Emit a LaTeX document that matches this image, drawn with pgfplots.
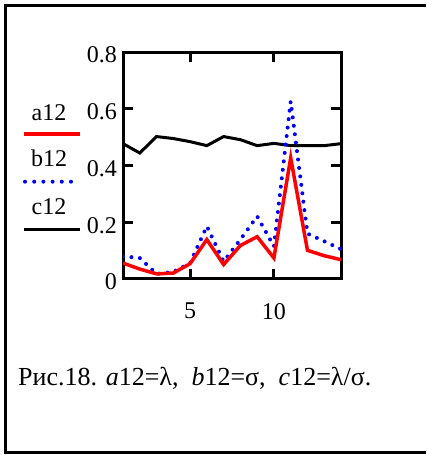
\documentclass[border=0pt]{standalone}
\usepackage{fontspec}
\setmainfont{Liberation Serif}
\usepackage{pgfplots}
\pgfplotsset{compat=1.18}

\definecolor{ared}{RGB}{255,0,0}
\definecolor{bblue}{RGB}{0,0,255}

\begin{document}
\begin{tikzpicture}
\path[use as bounding box] (0pt,0pt) rectangle (426pt,455pt);
% outer frame (open on the right)
\draw[line width=3pt] (426pt,449pt) -- (5pt,449pt) -- (5pt,2pt) -- (426pt,2pt);

\begin{axis}[
  at={(123pt,176pt)}, anchor=south west,
  width=218pt, height=227pt, scale only axis,
  xmin=1, xmax=14, ymin=0, ymax=0.8,
  xtick={5,10}, ytick={0,0.2,0.4,0.6,0.8},
  yticklabels={0,0.2,0.4,0.6,0.8},
  axis line style={draw=none},
  major tick length=0pt,
  ticklabel style={font=\fontsize{24}{28}\selectfont, inner sep=0pt},
  /pgf/number format/assume math mode=true,
  yticklabel style={anchor=east, xshift=-6pt, yshift=-3pt},
  xticklabel style={anchor=north, yshift=-24pt},
  clip mode=individual,
]
% plot frame and inward ticks
\draw[line width=3pt] (rel axis cs:0,0) rectangle (rel axis cs:1,1);
\pgfplotsinvokeforeach{5,10}{
  \draw[line width=3pt] (axis cs:#1,0) -- ++(0pt,10pt);
  \draw[line width=3pt] (axis cs:#1,0.8) -- ++(0pt,-10pt);
}
\pgfplotsinvokeforeach{0.2,0.4,0.6}{
  \draw[line width=3pt] (axis cs:1,#1) -- ++(10pt,0pt);
  \draw[line width=3pt] (axis cs:14,#1) -- ++(-10pt,0pt);
}
% c12
\addplot[black, line width=3pt] coordinates {
  (1,0.477) (2,0.444) (3,0.502) (4,0.495) (5,0.484) (6,0.470) (7,0.502)
  (8,0.491) (9,0.470) (10,0.478) (11,0.470) (12,0.470) (13,0.470) (14,0.477)
};
% b12
\addplot[bblue, line width=4pt, line cap=round, dash pattern=on 0pt off 8.5pt] coordinates {
  (1,0.080) (2,0.074) (3,0.018) (4,0.025) (5,0.056) (6,0.186) (7,0.062)
  (8,0.139) (9,0.221) (10,0.115) (11,0.626) (12,0.160) (13,0.133) (14,0.105)
};
% a12
\addplot[ared, line width=3.5pt] coordinates {
  (1,0.056) (2,0.035) (3,0.018) (4,0.021) (5,0.054) (6,0.139) (7,0.051)
  (8,0.118) (9,0.149) (10,0.074) (11,0.427) (12,0.101) (13,0.082) (14,0.068)
};
\end{axis}

% legend
\begin{scope}[every node/.style={font=\fontsize{24}{28}\selectfont, inner sep=0pt}]
\node[anchor=base] at (49pt,334pt) {a12};
\draw[ared, line width=3.5pt] (24pt,321pt) -- (80pt,321pt);
\node[anchor=base] at (49pt,288pt) {b12};
\draw[bblue, line width=4pt, line cap=round, dash pattern=on 0pt off 9.2pt] (25pt,273.3pt) -- (72pt,273.3pt);
\node[anchor=base] at (49pt,240pt) {c12};
\draw[black, line width=3pt] (24pt,225.7pt) -- (80pt,225.7pt);
\end{scope}

% caption
\node[anchor=base west, inner sep=0pt, font=\fontsize{26}{30}\selectfont] at (18pt,69.5pt)
  {Рис.18. \textit{a}12=λ,\ \ \textit{b}12=σ,\ \ \textit{c}12=λ/σ.};
\end{tikzpicture}
\end{document}
